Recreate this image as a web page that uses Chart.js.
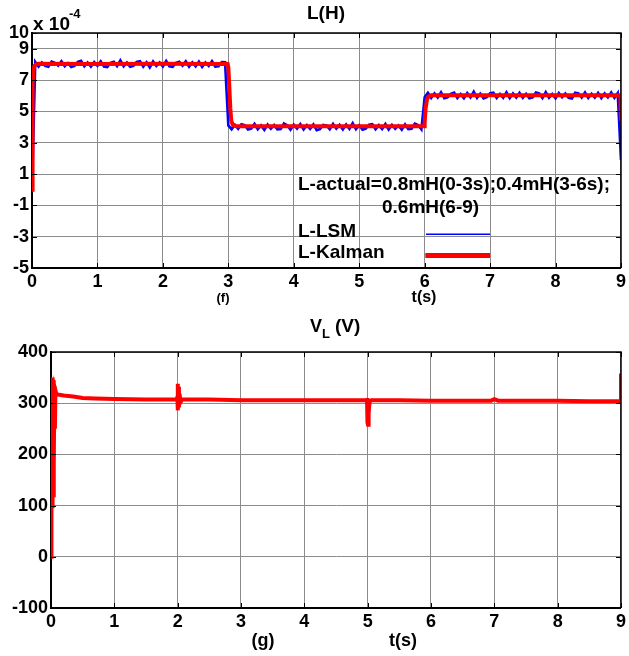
<!DOCTYPE html>
<html>
<head>
<meta charset="utf-8">
<script src="https://cdn.jsdelivr.net/npm/chart.js@4.4.1/dist/chart.umd.min.js"></script>
<style>
  body { margin: 0; background: #fff; }
  .panel { position: absolute; left: 0; width: 629px; }
  #top-panel { top: 0; height: 305px; }
  #bottom-panel { top: 305px; height: 351px; }
</style>
</head>
<body>
<div class="panel" id="top-panel"><canvas id="l-chart"></canvas></div>
<div class="panel" id="bottom-panel"><canvas id="vl-chart"></canvas></div>
<script>
// time axis (s)
const timeTicks = [0, 1, 2, 3, 4, 5, 6, 7, 8, 9];
// inductance axis, units of 1e-4 H
const lTicks = [-5, -3, -1, 1, 3, 5, 7, 9, 10];
const vlTicks = [-100, 0, 100, 200, 300, 400];

// L-LSM estimate, sampled every lsmStep seconds from t = 0
const lsmStep = 0.05;
const lsmValues = [
  0,
  8.15, 7.86, 8.12, 7.9, 7.84, 8.18, 8.1, 7.92, 8.2, 7.88,
  8.08, 7.83, 7.9, 8.16, 8.22, 7.87, 8.12, 7.85, 8.14, 7.91,
  8.19, 7.86, 7.82, 8.1, 8.17, 7.89, 8.25, 7.88, 8.11, 7.84,
  7.9, 8.15, 8.2, 7.85, 8.13, 7.8, 8.18, 7.89, 8.12, 7.86,
  8.21, 7.88, 7.84, 8.1, 8.16, 7.92, 8.19, 7.85, 8.13, 7.87,
  8.17, 7.83, 8.12, 7.9, 8.2, 7.86, 7.88, 8.15, 8.14,
  4.1,
  3.85, 4.14, 3.88, 4.18, 4.12, 3.84, 3.9, 4.2, 3.86, 4.1,
  3.82, 4.16, 3.89, 4.13, 3.85, 3.87, 4.22, 4.11, 3.83, 4.15,
  3.9, 4.19, 3.84, 4.12, 3.88, 4.17, 3.8, 3.87, 4.14, 4.1,
  3.85, 4.2, 3.89, 4.13, 3.84, 4.16, 3.88, 4.24, 3.86, 4.11,
  3.83, 3.9, 4.15, 4.18, 3.85, 4.12, 3.87, 4.19, 3.84, 4.14,
  3.88, 4.1, 3.83, 4.17, 3.86, 3.89, 4.21, 4.13, 3.85,
  5.9,
  6.18, 5.86, 6.15, 5.88, 6.22, 5.84, 5.9, 6.12, 6.2, 5.85,
  6.1, 5.83, 6.17, 5.89, 6.25, 5.86, 6.13, 5.82, 5.9, 6.16,
  6.19, 5.85, 6.11, 5.87, 6.21, 5.84, 6.14, 5.88, 6.18, 5.86,
  6.12, 5.83, 5.89, 6.2, 6.15, 5.85, 6.23, 5.87, 6.1, 5.84,
  6.17, 5.9, 6.13, 5.86, 5.82, 6.19, 6.14, 5.88, 6.2, 5.85,
  6.12, 5.87, 6.18, 5.84, 6.15, 5.89, 6.21, 5.86, 6.16,
  1.9,
];

// L-Kalman estimate
const kalmanTime = [
  0, 0.004, 0.008, 0.014, 0.022, 0.035, 0.06, 0.1, 1, 2,
  2.99, 3.0, 3.015, 3.03, 3.045, 3.07, 3.12, 4, 5, 5.99,
  6.0, 6.015, 6.035, 6.06, 6.1, 6.15, 7, 8, 8.99, 9.0,
];
const kalmanValues = [
  0, 2.5, 5, 6.8, 7.6, 7.9, 8.0, 8.03, 8.02, 8.03,
  8.02, 7.8, 6.6, 5.2, 4.4, 4.12, 4.05, 4.05, 4.04, 4.05,
  4.3, 5.2, 5.75, 5.95, 6.02, 6.03, 6.02, 6.03, 6.03, 4.4,
];

// inductor voltage V_L (V)
const vlTime = [
  0, 0.004, 0.01, 0.016, 0.022, 0.028, 0.034, 0.04, 0.047, 0.054,
  0.062, 0.07, 0.08, 0.1, 0.2, 0.35, 0.5, 0.7, 1.0, 1.5,
  1.98, 1.995, 2.0, 2.005, 2.012, 2.02, 2.03, 2.045, 2.07, 2.5,
  3.0, 4.0, 4.99, 4.995, 5.0, 5.006, 5.015, 5.03, 5.06, 5.5,
  6.0, 6.5, 6.95, 7.0, 7.06, 7.5, 8.0, 8.5, 8.99, 9.0,
];
const vlValues = [
  0, 335, 70, 340, 95, 350, 120, 345, 180, 332,
  250, 325, 320, 317, 315, 313, 310, 309, 308, 307,
  307, 312, 338, 286, 332, 292, 318, 302, 307, 307,
  306, 306, 306, 310, 262, 258, 280, 303, 306, 306,
  305, 305, 305, 308, 305, 305, 305, 304, 304, 358,
];

const zip = (xs, ys) => xs.map((x, i) => ({ x: x, y: ys[i] }));
const lsmPoints = lsmValues.map((v, i) => ({ x: i * lsmStep, y: v }));

const FONT = 'Arial, "Liberation Sans", sans-serif';

const drawText = (ctx, text, x, y, size, align) => {
  ctx.font = "bold " + size + "px " + FONT;
  ctx.textAlign = align || "left";
  ctx.textBaseline = "alphabetic";
  ctx.fillStyle = "#000";
  ctx.fillText(text, x, y);
};

// top/right box edges and inward tick marks on all four sides
const framePlugin = {
  id: "frame",
  afterDraw(chart) {
    const { ctx, chartArea: a, scales } = chart;
    ctx.save();
    ctx.strokeStyle = "#000";
    ctx.lineWidth = 1.5;
    ctx.beginPath();
    ctx.moveTo(a.left, a.top);
    ctx.lineTo(a.right, a.top);
    ctx.lineTo(a.right, a.bottom);
    ctx.stroke();
    ctx.lineWidth = 1;
    ctx.beginPath();
    scales.x.ticks.forEach((t) => {
      const px = Math.round(scales.x.getPixelForValue(t.value)) + 0.5;
      ctx.moveTo(px, a.bottom);
      ctx.lineTo(px, a.bottom - 5);
      ctx.moveTo(px, a.top);
      ctx.lineTo(px, a.top + 5);
    });
    scales.y.ticks.forEach((t) => {
      const py = Math.round(scales.y.getPixelForValue(t.value)) + 0.5;
      ctx.moveTo(a.left, py);
      ctx.lineTo(a.left + 5, py);
      ctx.moveTo(a.right, py);
      ctx.lineTo(a.right - 5, py);
    });
    ctx.stroke();
    ctx.restore();
  },
};

const lLabels = {
  id: "lLabels",
  afterDraw(chart) {
    const { ctx, scales } = chart;
    const x = scales.x;
    const y = scales.y;
    ctx.save();
    drawText(ctx, "L(H)", 326, 19, 19, "center");
    drawText(ctx, "x 10", 33, 30, 19);
    drawText(ctx, "-4", 69, 18, 13);
    drawText(ctx, "(f)", 223, 302, 13, "center");
    drawText(ctx, "t(s)", 424, 302, 16, "center");
    drawText(ctx, "L-actual=0.8mH(0-3s);0.4mH(3-6s);", 298, 190, 19);
    drawText(ctx, "0.6mH(6-9)", 382, 213, 19);
    drawText(ctx, "L-LSM", 298, 237, 19);
    drawText(ctx, "L-Kalman", 298, 258, 19);
    // legend samples
    ctx.lineCap = "butt";
    ctx.strokeStyle = "#0000ff";
    ctx.lineWidth = 1.5;
    ctx.beginPath();
    ctx.moveTo(x.getPixelForValue(6.02), y.getPixelForValue(-2.85));
    ctx.lineTo(x.getPixelForValue(7), y.getPixelForValue(-2.85));
    ctx.stroke();
    ctx.strokeStyle = "#ff0000";
    ctx.lineWidth = 5;
    ctx.beginPath();
    ctx.moveTo(x.getPixelForValue(6.01), y.getPixelForValue(-4.2));
    ctx.lineTo(x.getPixelForValue(7), y.getPixelForValue(-4.2));
    ctx.stroke();
    ctx.restore();
  },
};

const vlLabels = {
  id: "vlLabels",
  afterDraw(chart) {
    const { ctx } = chart;
    ctx.save();
    drawText(ctx, "V", 310, 27, 18);
    drawText(ctx, "L", 322, 33, 13);
    drawText(ctx, "(V)", 335, 27, 19);
    drawText(ctx, "(g)", 263, 341, 18, "center");
    drawText(ctx, "t(s)", 403, 341, 18, "center");
    ctx.restore();
  },
};

const makeScales = (yMin, yMax, yTicks, yWidth, xHeight) => ({
  x: {
    type: "linear",
    min: 0,
    max: 9,
    afterBuildTicks: (scale) => {
      scale.ticks = timeTicks.map((v) => ({ value: v }));
    },
    afterFit: (scale) => {
      scale.height = xHeight;
    },
    grid: { color: "#8c8c8c", lineWidth: 1, drawTicks: false },
    border: { display: true, color: "#000", width: 2 },
    ticks: {
      color: "#000",
      padding: 3,
      autoSkip: false,
      maxRotation: 0,
      font: { family: FONT, size: 18, weight: "bold" },
    },
  },
  y: {
    type: "linear",
    min: yMin,
    max: yMax,
    afterBuildTicks: (scale) => {
      scale.ticks = yTicks.map((v) => ({ value: v }));
    },
    afterFit: (scale) => {
      scale.width = yWidth;
    },
    grid: { color: "#8c8c8c", lineWidth: 1, drawTicks: false },
    border: { display: true, color: "#000", width: 2 },
    ticks: {
      color: "#000",
      padding: 3,
      autoSkip: false,
      font: { family: FONT, size: 18, weight: "bold" },
    },
  },
});

const baseOptions = {
  responsive: true,
  maintainAspectRatio: false,
  animation: false,
  parsing: false,
  plugins: {
    legend: { display: false },
    title: { display: false },
    tooltip: { enabled: false },
  },
  elements: { point: { radius: 0 } },
};

new Chart(document.getElementById("l-chart").getContext("2d"), {
  type: "line",
  data: {
    datasets: [
      {
        label: "L-Kalman",
        data: zip(kalmanTime, kalmanValues),
        borderColor: "#ff0000",
        borderWidth: 4,
        tension: 0,
      },
      {
        label: "L-LSM",
        data: lsmPoints,
        borderColor: "#0000ff",
        borderWidth: 2.6,
        tension: 0,
      },
    ],
  },
  options: {
    ...baseOptions,
    layout: { padding: { top: 33, right: 6, left: 0, bottom: 0 } },
    scales: makeScales(-5, 10, lTicks, 32, 37),
  },
  plugins: [framePlugin, lLabels],
});

new Chart(document.getElementById("vl-chart").getContext("2d"), {
  type: "line",
  data: {
    datasets: [
      {
        label: "V_L",
        data: zip(vlTime, vlValues),
        borderColor: "#ff0000",
        borderWidth: 4,
        tension: 0,
      },
    ],
  },
  options: {
    ...baseOptions,
    layout: { padding: { top: 47, right: 8, left: 0, bottom: 0 } },
    scales: makeScales(-100, 400, vlTicks, 51, 48),
  },
  plugins: [framePlugin, vlLabels],
});
</script>
</body>
</html>
